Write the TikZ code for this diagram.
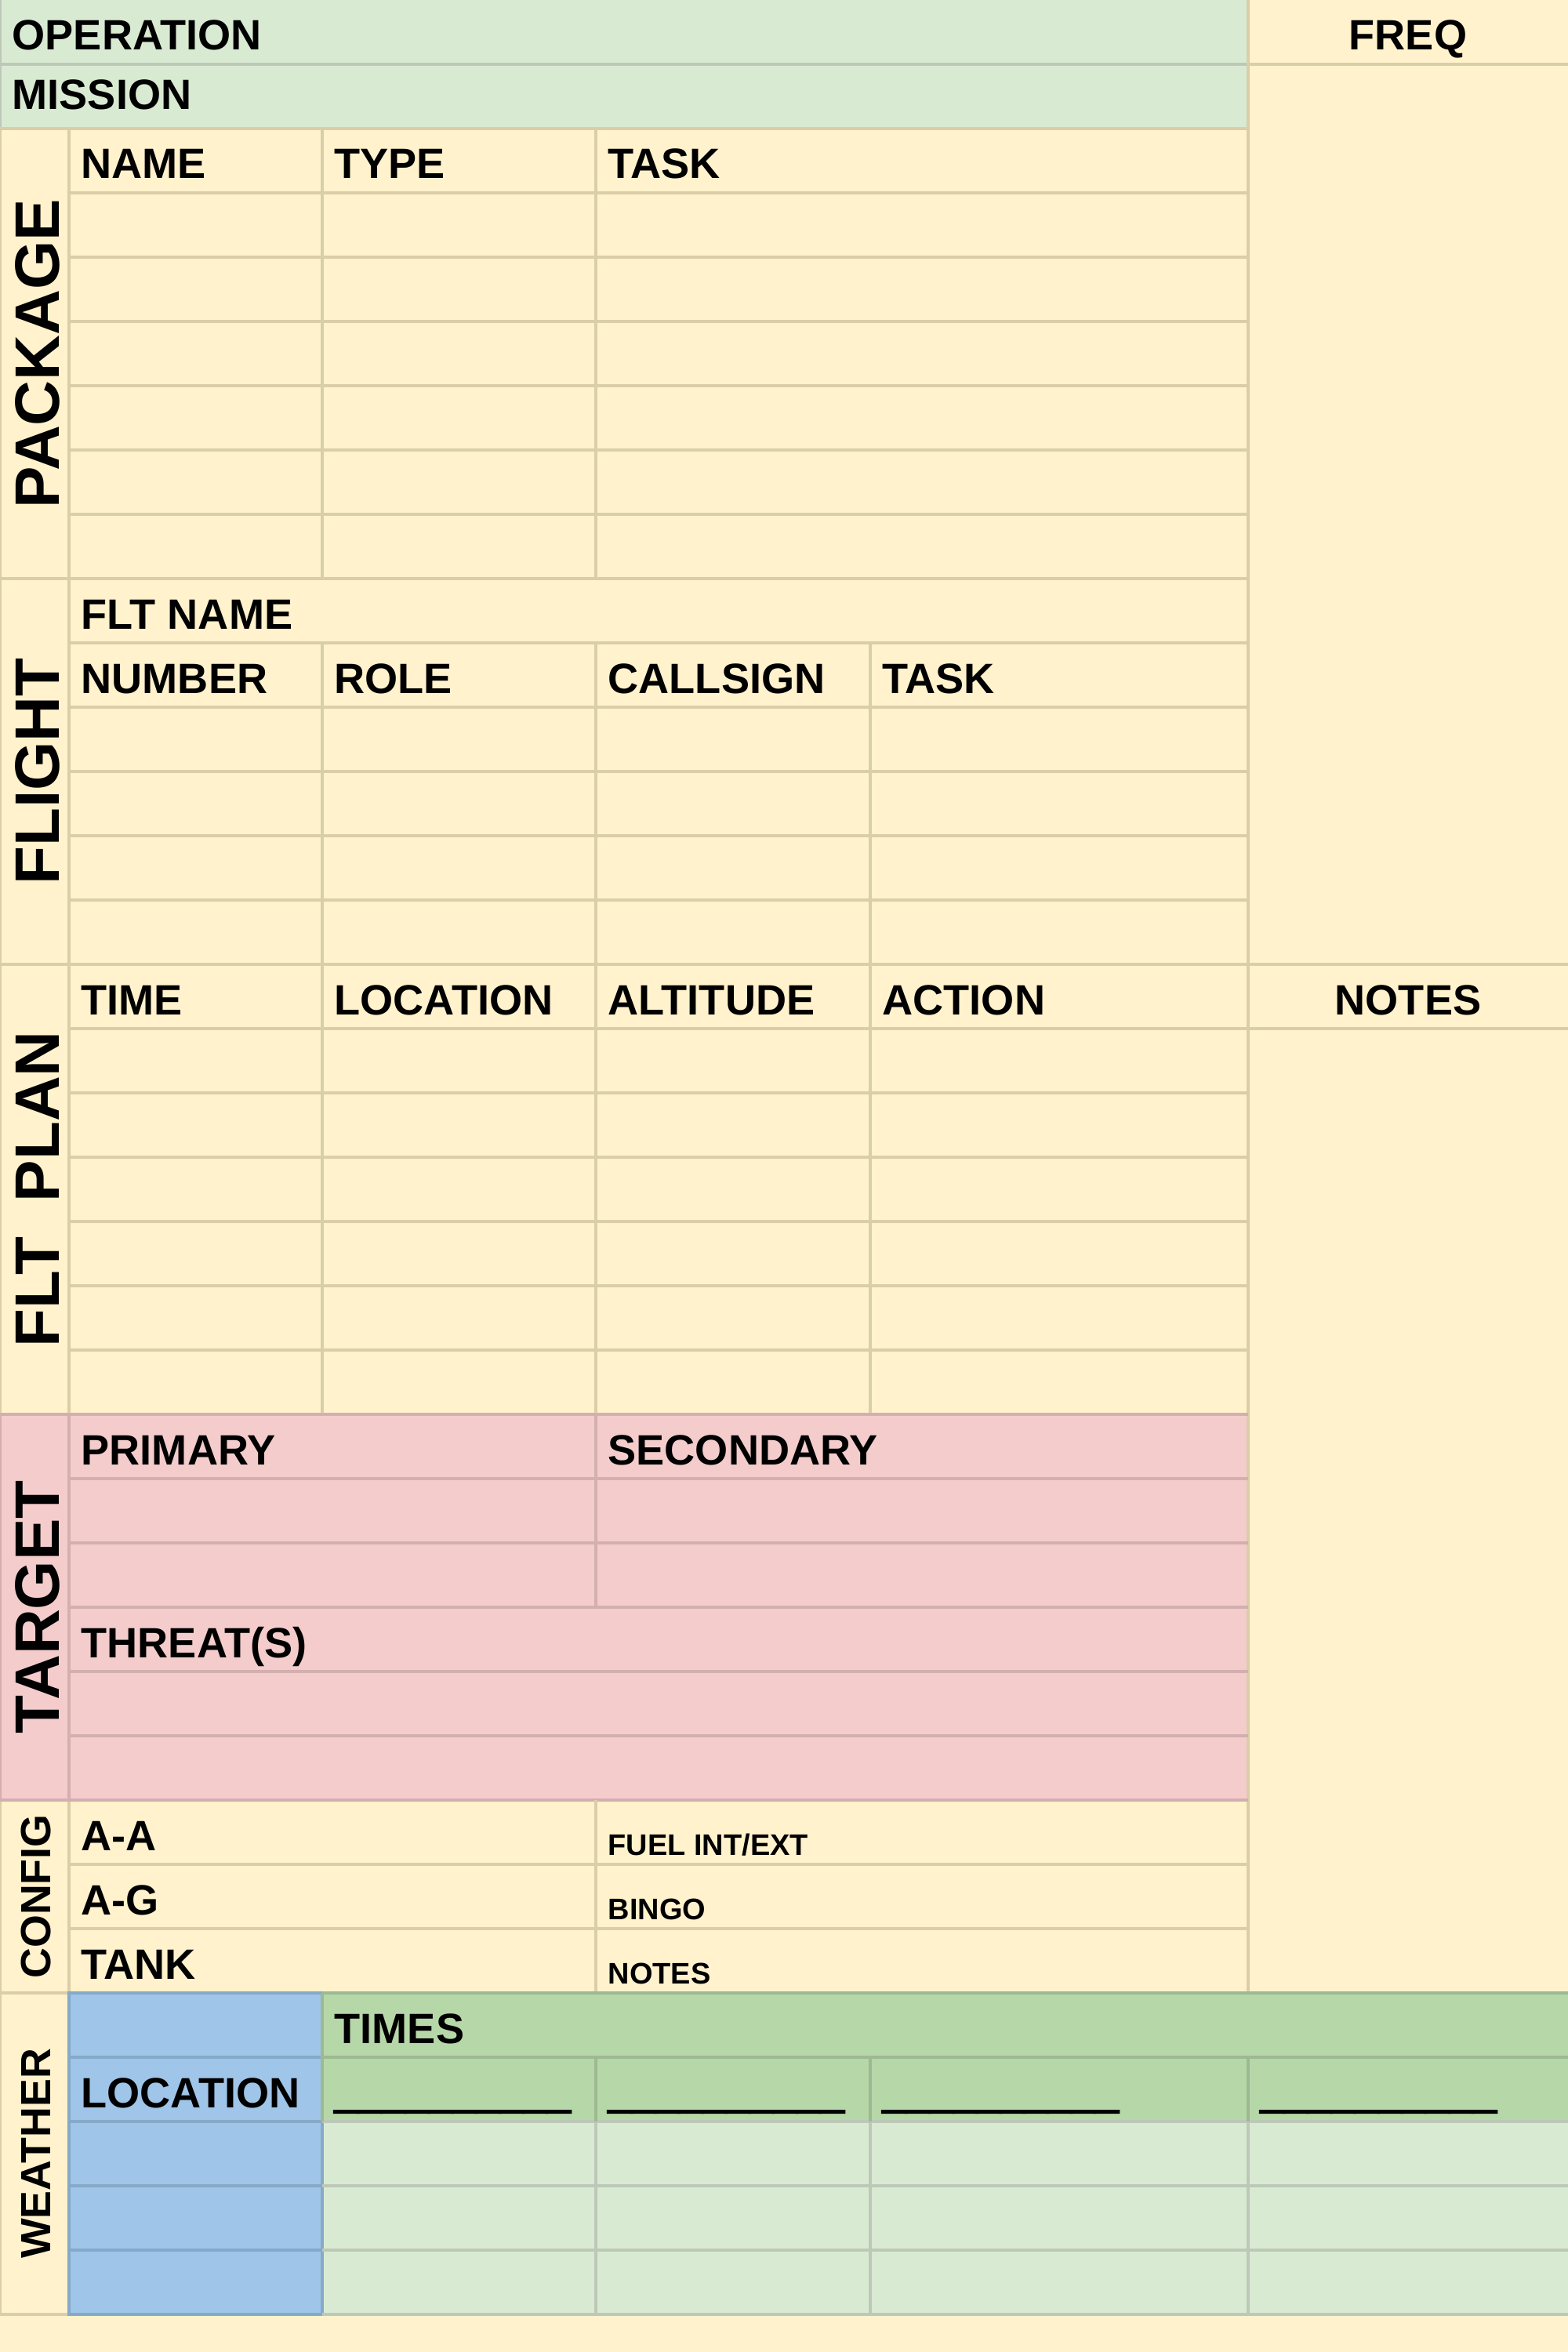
\documentclass[tikz,border=0pt]{standalone}
\usepackage{fontspec}
\setmainfont{Liberation Sans}
\newfontfamily\blankfont{Liberation Sans Bold}[FakeBold=5]
\usepackage{xcolor}

\definecolor{sheetyellow}{HTML}{FFF2CC}
\definecolor{sheetgreen}{HTML}{D9EAD3}
\definecolor{sheetpink}{HTML}{F4CCCC}
\definecolor{sheetblue}{HTML}{9FC5E8}
\definecolor{sheettimes}{HTML}{B6D7A8}
\definecolor{yrule}{HTML}{DACEAA}
\definecolor{grule}{HTML}{BDC8B8}
\definecolor{prule}{HTML}{D3AFAF}
\definecolor{brule}{HTML}{86A9C8}
\definecolor{trule}{HTML}{9DB992}

\tikzset{
	yl/.style={draw=yrule, line width=1.1pt},
	gl/.style={draw=grule, line width=1.1pt},
	pl/.style={draw=prule, line width=1.1pt},
	bl/.style={draw=brule, line width=1.1pt},
	tl/.style={draw=trule, line width=1.1pt},
	head/.style={anchor=base west, inner sep=0pt, xshift=0.15cm, yshift=0.18cm,
		font=\fontsize{15.4pt}{18pt}\selectfont\bfseries},
	blank/.style={anchor=base west, inner sep=0pt, xshift=0.15cm, yshift=0.18cm,
		font=\fontsize{15.4pt}{18pt}\selectfont\blankfont},
	smallhead/.style={anchor=base west, inner sep=0pt, xshift=0.15cm, yshift=0.12cm,
		font=\fontsize{10.8pt}{13pt}\selectfont\bfseries},
	colhead/.style={anchor=base, inner sep=0pt, yshift=0.18cm,
		font=\fontsize{15.4pt}{18pt}\selectfont\bfseries},
	section/.style={rotate=90, inner sep=0pt,
		font=\fontsize{22.8pt}{26pt}\selectfont\bfseries},
	smallsection/.style={rotate=90, inner sep=0pt,
		font=\fontsize{15.3pt}{18pt}\selectfont\bfseries}
}

\begin{document}
\begin{tikzpicture}[x=1cm, y=-0.82cm]
	\useasboundingbox (0,0) rectangle (20,36.5854);
	% fills
	\fill[sheetyellow] (0,0) rectangle (20,36.5854);
	\fill[sheetgreen] (0,0) rectangle (15.92,2);
	\fill[sheetpink] (0,22) rectangle (15.92,28);
	\fill[sheetblue] (0.88,31) rectangle (4.11,36);
	\fill[sheettimes] (4.11,31) rectangle (20,33);
	\fill[sheetgreen] (4.11,33) rectangle (20,36);
	% operation / mission
	\draw[gl] (0,0)--(0,2) (0,1)--(15.92,1);
	\draw[yl] (0,2)--(15.92,2) (15.92,0)--(15.92,31);
	\draw[yl] (15.92,1)--(20,1) (15.92,15)--(20,15) (15.92,16)--(20,16);
	% left column
	\draw[yl] (0,2)--(0,22) (0.88,2)--(0.88,22) (0,28)--(0,36) (0.88,28)--(0.88,31);
	\draw[yl] (0,31)--(0.88,31) (0,36)--(0.88,36);
	% package
	\draw[yl] (0.88,3)--(15.92,3) (0.88,4)--(15.92,4) (0.88,5)--(15.92,5)
		(0.88,6)--(15.92,6) (0.88,7)--(15.92,7) (0.88,8)--(15.92,8) (0,9)--(15.92,9);
	\draw[yl] (4.11,2)--(4.11,9) (7.60,2)--(7.60,9);
	% flight
	\draw[yl] (0.88,10)--(15.92,10) (0.88,11)--(15.92,11) (0.88,12)--(15.92,12)
		(0.88,13)--(15.92,13) (0.88,14)--(15.92,14) (0,15)--(15.92,15);
	\draw[yl] (4.11,10)--(4.11,15) (7.60,10)--(7.60,15) (11.10,10)--(11.10,15);
	% flight plan
	\draw[yl] (0.88,16)--(15.92,16) (0.88,17)--(15.92,17) (0.88,18)--(15.92,18)
		(0.88,19)--(15.92,19) (0.88,20)--(15.92,20) (0.88,21)--(15.92,21);
	\draw[yl] (4.11,15)--(4.11,22) (7.60,15)--(7.60,22) (11.10,15)--(11.10,22);
	% target
	\draw[pl] (0,22)--(15.92,22) (0.88,23)--(15.92,23) (0.88,24)--(15.92,24)
		(0.88,25)--(15.92,25) (0.88,26)--(15.92,26) (0.88,27)--(15.92,27) (0,28)--(15.92,28);
	\draw[pl] (0,22)--(0,28) (0.88,22)--(0.88,28) (7.60,22)--(7.60,25);
	% config
	\draw[yl] (0.88,29)--(15.92,29) (0.88,30)--(15.92,30) (7.60,28)--(7.60,31);
	% weather
	\draw[bl] (0.88,31) rectangle (4.11,36);
	\draw[bl] (0.88,32)--(4.11,32) (0.88,33)--(4.11,33) (0.88,34)--(4.11,34) (0.88,35)--(4.11,35);
	\draw[gl] (4.11,33)--(20,33) (4.11,34)--(20,34) (4.11,35)--(20,35) (4.11,36)--(20,36);
	\draw[gl] (7.60,33)--(7.60,36) (11.10,33)--(11.10,36) (15.92,33)--(15.92,36);
	\draw[tl] (4.11,31)--(20,31) (4.11,32)--(20,32) (4.11,31)--(4.11,33);
	\draw[tl] (7.60,32)--(7.60,33) (11.10,32)--(11.10,33) (15.92,32)--(15.92,33);
	% headers
	\node[head] (operation) at (0,1) {OPERATION};
	\node[head, yshift=0.06cm] (mission) at (0,2) {MISSION};
	\node[colhead] (freq) at (17.96,1) {FREQ};
	\node[head] (pkgname) at (0.88,3) {NAME};
	\node[head] (pkgtype) at (4.11,3) {TYPE};
	\node[head] (pkgtask) at (7.60,3) {TASK};
	\node[head] (fltname) at (0.88,10) {FLT NAME};
	\node[head] (fltnumber) at (0.88,11) {NUMBER};
	\node[head] (fltrole) at (4.11,11) {ROLE};
	\node[head] (fltcall) at (7.60,11) {CALLSIGN};
	\node[head] (flttask) at (11.10,11) {TASK};
	\node[head] (plantime) at (0.88,16) {TIME};
	\node[head] (planloc) at (4.11,16) {LOCATION};
	\node[head] (planalt) at (7.60,16) {ALTITUDE};
	\node[head] (planaction) at (11.10,16) {ACTION};
	\node[colhead] (notes) at (17.96,16) {NOTES};
	\node[head] (primary) at (0.88,23) {PRIMARY};
	\node[head] (secondary) at (7.60,23) {SECONDARY};
	\node[head] (threats) at (0.88,26) {THREAT(S)};
	\node[head] (aa) at (0.88,29) {A-A};
	\node[head] (ag) at (0.88,30) {A-G};
	\node[head] (tank) at (0.88,31) {TANK};
	\node[smallhead] (fuel) at (7.60,29) {FUEL INT/EXT};
	\node[smallhead] (bingo) at (7.60,30) {BINGO};
	\node[smallhead] (cfgnotes) at (7.60,31) {NOTES};
	\node[head] (times) at (4.11,32) {TIMES};
	\node[head] (wxloc) at (0.88,33) {LOCATION};
	\node[blank] (timea) at (4.11,33) {\_\_\_\_\_\_\_\_\_\_};
	\node[blank] (timeb) at (7.60,33) {\_\_\_\_\_\_\_\_\_\_};
	\node[blank] (timec) at (11.10,33) {\_\_\_\_\_\_\_\_\_\_};
	\node[blank] (timed) at (15.92,33) {\_\_\_\_\_\_\_\_\_\_};
	% side labels
	\node[section] (package) at (0.48,5.5) {PACKAGE};
	\node[section] (flight) at (0.48,12) {FLIGHT};
	\node[section] (fltplan) at (0.48,18.5) {FLT\ \ PLAN};
	\node[section] (target) at (0.48,25) {TARGET};
	\node[smallsection] (config) at (0.46,29.5) {CONFIG};
	\node[smallsection] (weather) at (0.46,33.5) {WEATHER};
\end{tikzpicture}
\end{document}
